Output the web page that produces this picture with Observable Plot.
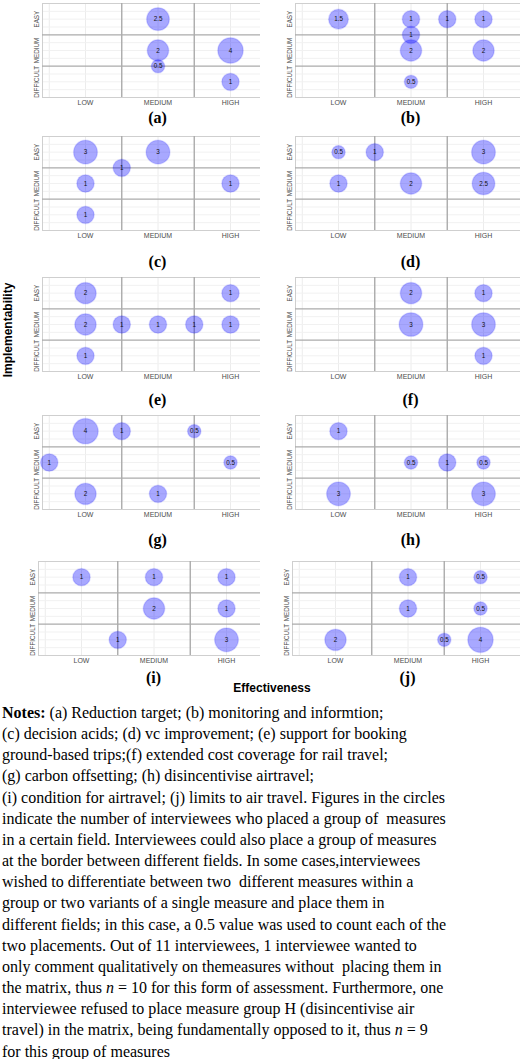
<!DOCTYPE html>
<html><head><meta charset="utf-8">
<script src="https://cdn.jsdelivr.net/npm/d3@7"></script>
<script src="https://cdn.jsdelivr.net/npm/@observablehq/plot@0.6"></script>
<style>
body{margin:0;background:#fff;}
#wrap{position:relative;width:520px;height:1059px;overflow:hidden;background:#fff;}
.panel{position:absolute;}
.cap{position:absolute;font:bold 16px "Liberation Serif","Times New Roman",serif;transform:translate(-50%,-50%);white-space:nowrap;color:#000;}
.axt{position:absolute;font:bold 12px "Liberation Sans",Arial,sans-serif;white-space:nowrap;color:#000;transform:translate(-50%,-50%);}
#notes{position:absolute;left:2px;top:702px;font:16px "Liberation Serif","Times New Roman",serif;line-height:21.15px;color:#000;}
#notes div{white-space:pre;}
</style></head><body>
<div id="wrap"></div>
<script>
// ---- data ----
const panelIds = ["a","b","c","d","e","f","g","h","i","j"];
const panelCaptions = ["(a)","(b)","(c)","(d)","(e)","(f)","(g)","(h)","(i)","(j)"];
const xTickLabels = ["LOW","MEDIUM","HIGH"];          // effectiveness 1,2,3
const yTickLabels = ["DIFFICULT","MEDIUM","EASY"];    // implementability 1,2,3
const xTitle = "Effectiveness";
const yTitle = "Implementability";

// one entry per bubble (x = effectiveness, y = implementability, count = interviewees)
const bubblePanel = [
  "a","a","a","a","a",
  "b","b","b","b","b","b","b","b",
  "c","c","c","c","c","c",
  "d","d","d","d","d","d",
  "e","e","e","e","e","e","e","e",
  "f","f","f","f","f",
  "g","g","g","g","g","g","g",
  "h","h","h","h","h","h",
  "i","i","i","i","i","i","i",
  "j","j","j","j","j","j","j"
];
const bubbleEffect = [
  2,2,3,2,3,
  1,2,2.5,3,2,2,3,2,
  1,2,1.5,1,3,1,
  1,1.5,3,1,2,3,
  1,3,1,1.5,2,2.5,3,1,
  2,3,2,3,3,
  1,1.5,2.5,0.5,3,1,2,
  1,2,2.5,3,1,3,
  1,2,3,2,3,1.5,3,
  2,3,2,3,1,2.5,3
];
const bubbleImpl = [
  3,2,2,1.5,1,
  3,3,3,3,2.5,2,2,1,
  3,3,2.5,2,2,1,
  3,3,3,2,2,2,
  3,3,2,2,2,2,2,1,
  3,3,2,2,1,
  3,3,3,2,2,1,1,
  3,2,2,2,1,1,
  3,3,3,2,2,1,1,
  3,3,2,2,1,1,1
];
const bubbleCount = [
  2.5,2,4,0.5,1,
  1.5,1,1,1,1,2,2,0.5,
  3,3,1,1,1,1,
  0.5,1,3,1,2,2.5,
  2,1,2,1,1,1,1,1,
  2,1,3,3,1,
  4,1,0.5,1,0.5,2,1,
  1,0.5,1,0.5,3,3,
  1,1,1,2,1,1,3,
  1,0.5,1,0.5,2,0.5,4
];

const noteLines = [
  "<b>Notes:</b> (a) Reduction target; (b) monitoring and informtion;",
  "(c) decision acids; (d) vc improvement; (e) support for booking",
  "ground-based trips;(f) extended cost coverage for rail travel;",
  "(g) carbon offsetting; (h) disincentivise airtravel;",
  "(i) condition for airtravel; (j) limits to air travel. Figures in the circles",
  "indicate the number of interviewees who placed a group of  measures",
  "in a certain field. Interviewees could also place a group of measures",
  "at the border between different fields. In some cases,interviewees",
  "wished to differentiate between two  different measures within a",
  "group or two variants of a single measure and place them in",
  "different fields; in this case, a 0.5 value was used to count each of the",
  "two placements. Out of 11 interviewees, 1 interviewee wanted to",
  "only comment qualitatively on themeasures without  placing them in",
  "the matrix, thus <i>n</i> = 10 for this form of assessment. Furthermore, one",
  "interviewee refused to place measure group H (disincentivise air",
  "travel) in the matrix, being fundamentally opposed to it, thus <i>n</i> = 9",
  "for this group of measures"
];

// ---- layout ----
const frames = { // frame left, frame top, column, caption y
  a:[42,3,0,118], b:[295,3,1,118],
  c:[42,136,0,262], d:[295,136,1,262],
  e:[42,277,0,400], f:[295,277,1,400],
  g:[42,415,0,540], h:[295,415,1,540],
  i:[38,561,0,678], j:[292,561,1,678]
};
const cellW = 72.5, plotH = 94, mt = 3, mb = 16, colW = 260;
const xmin = 1 - 43 / cellW;

const rows = bubblePanel.map((p, i) => ({panel: p, x: bubbleEffect[i], y: bubbleImpl[i], count: bubbleCount[i]}));
const wrap = document.getElementById("wrap");

panelIds.forEach((id, k) => {
  const [fl, ft, col, capY] = frames[id];
  const svgLeft = col * colW;
  const ml = fl - svgLeft;
  const xmax = xmin + (colW - ml) / cellW;
  const data = rows.filter(d => d.panel === id);
  const chart = Plot.plot({
    width: colW, height: mt + plotH + mb,
    marginLeft: ml, marginRight: 0, marginTop: mt, marginBottom: mb,
    x: {domain: [xmin, xmax]},
    y: {domain: [0.5, 3.5]},
    r: {type: "log", domain: [0.5, 4], range: [6.7, 12.7]},
    style: {fontFamily: "'Liberation Sans', Arial, sans-serif", fontSize: "7px", color: "#4d4d4d", background: "transparent"},
    marks: [
      Plot.gridX([0.5, 1, 2, 3], {stroke: "#ececec", strokeOpacity: 1}),
      Plot.gridY([0.75, 1, 1.25, 1.75, 2, 2.25, 2.75, 3, 3.25], {stroke: "#f1f1f1", strokeOpacity: 1}),
      Plot.ruleX([xmin], {stroke: "#cfcfcf"}),
      Plot.ruleY([0.5, 3.5], {stroke: "#cfcfcf"}),
      Plot.ruleX([1.5, 2.5], {stroke: "#ababab", strokeWidth: 1.4}),
      Plot.ruleY([1.5, 2.5], {stroke: "#ababab", strokeWidth: 1.4}),
      Plot.axisX([1, 2, 3], {tickFormat: d => xTickLabels[d - 1], tickSize: 0, tickPadding: 3, fontSize: 7, label: null}),
      Plot.axisY([1, 2, 3], {tickFormat: d => yTickLabels[d - 1], tickSize: 0, tickPadding: 4, tickRotate: -90, fontSize: 6.3, label: null}),
      Plot.dot(data, {x: "x", y: "y", r: "count", fill: "blue", fillOpacity: 0.34, stroke: "blue", strokeOpacity: 0.12}),
      Plot.text(data, {x: "x", y: "y", text: d => String(d.count), fontSize: 6.3, fill: "#111"})
    ]
  });
  const holder = document.createElement("div");
  holder.className = "panel";
  holder.style.left = svgLeft + "px";
  holder.style.top = (ft - mt) + "px";
  holder.appendChild(chart);
  wrap.appendChild(holder);

  const cap = document.createElement("div");
  cap.className = "cap";
  cap.textContent = panelCaptions[k];
  cap.style.left = (fl + 43 + cellW) + "px";
  cap.style.top = capY + "px";
  wrap.appendChild(cap);
});

const yt = document.createElement("div");
yt.className = "axt";
yt.textContent = yTitle;
yt.style.left = "8px"; yt.style.top = "330px";
yt.style.transform = "translate(-50%,-50%) rotate(-90deg)";
wrap.appendChild(yt);

const xt = document.createElement("div");
xt.className = "axt";
xt.textContent = xTitle;
xt.style.left = "272px"; xt.style.top = "688px";
wrap.appendChild(xt);

const notes = document.createElement("div");
notes.id = "notes";
notes.innerHTML = noteLines.map(l => "<div>" + l + "</div>").join("");
wrap.appendChild(notes);
</script>
</body></html>
